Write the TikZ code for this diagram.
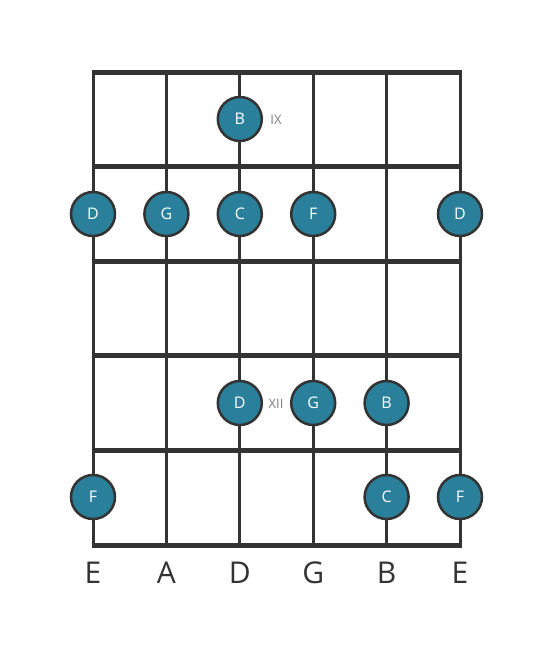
\documentclass[tikz,border=0pt]{standalone}
\usepackage{fontspec}
\setmainfont{Open Sans}
\definecolor{teal1}{RGB}{42,127,155}
\definecolor{dk}{RGB}{51,51,51}
\definecolor{gr}{RGB}{128,128,128}
\begin{document}
\begin{tikzpicture}[x=1pt,y=-1pt,
  fret/.style={draw=dk,line width=5pt},
  str/.style={draw=dk,line width=3pt},
  note/.style={circle,fill=teal1,draw=dk,line width=2.5pt,minimum size=44pt,inner sep=0pt,text=white,font=\fontsize{16}{16}\selectfont},
  fretnum/.style={text=gr,font=\fontsize{13}{13}\selectfont,inner sep=0pt},
  strname/.style={text=dk,font=\fontsize{30}{30}\selectfont,inner sep=0pt}]
\useasboundingbox (0,0) rectangle (553,656);
% string coordinates
\foreach \i/\x in {1/93,2/166.4,3/239.8,4/313.2,5/386.6,6/460}{
  \coordinate (t\i) at (\x,72);
  \coordinate (b\i) at (\x,545);
}
\foreach \i in {1,...,6}{ \draw[str] (t\i) -- (b\i); }
\foreach \j/\y in {0/72,1/166.6,2/261.2,3/355.8,4/450.4,5/545}{
  \coordinate (fl\j) at (91.5,\y);
  \coordinate (fr\j) at (461.5,\y);
  \draw[fret] (fl\j) -- (fr\j);
}
% notes
\node[note] (n1) at (239.8,119) {B};
\node[fretnum] (f9) at (276,120) {IX};
\node[note] (n2) at (93,214) {D};
\node[note] (n3) at (166.4,214) {G};
\node[note] (n4) at (239.8,214) {C};
\node[note] (n5) at (313.2,214) {F};
\node[note] (n6) at (460,214) {D};
\node[note] (n7) at (239.8,403) {D};
\node[fretnum] (f12) at (276,404) {XII};
\node[note] (n8) at (313.2,403) {G};
\node[note] (n9) at (386.6,403) {B};
\node[note] (n10) at (93,497) {F};
\node[note] (n11) at (386.6,497) {C};
\node[note] (n12) at (460,497) {F};
% string names
\foreach \i/\x/\s in {1/93/E,2/166.4/A,3/239.8/D,4/313.2/G,5/386.6/B,6/460/E}{
  \node[strname] (s\i) at (\x,573) {\s};
}
\end{tikzpicture}
\end{document}
